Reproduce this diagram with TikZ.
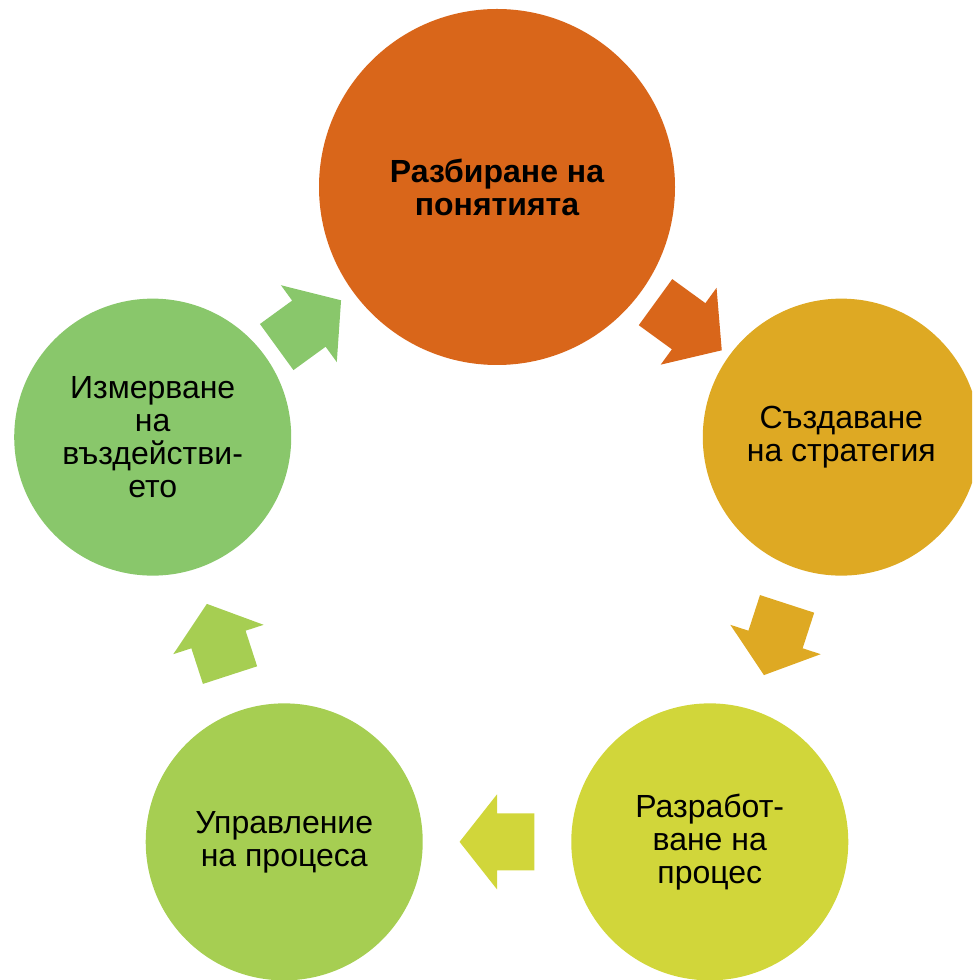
\documentclass[tikz,border=0pt]{standalone}
\usepackage{fontspec}
\setmainfont{Liberation Sans}
\usetikzlibrary{calc}

\definecolor{concept}{RGB}{217,102,26}
\definecolor{strategy}{RGB}{222,169,35}
\definecolor{develop}{RGB}{209,214,58}
\definecolor{manage}{RGB}{166,206,82}
\definecolor{measure}{RGB}{137,199,107}

\tikzset{
  stage/.style={circle,minimum size=277pt,inner sep=0pt,align=center,
    font=\fontsize{32}{33}\selectfont},
  cyclearrow/.pic={
    \path[pic actions] (-39,-28.5) -- (0,-28.5) -- (0,-47.5) -- (39,0)
      -- (0,47.5) -- (0,28.5) -- (-39,28.5) -- cycle;
  }
}

\begin{document}
\begin{tikzpicture}[x=1pt,y=1pt]
  \useasboundingbox (0,0) rectangle (972,980);
  \clip (0,0) rectangle (972,980);
  \coordinate (Centre) at (497,431);
  % the five stages, round a pentagon
  \node[stage,fill=concept,minimum size=356pt,
        font=\fontsize{32}{33}\selectfont\bfseries]
     (concept) at ($(Centre)+(90:362)$) {Разбиране на\\понятията};
  \node[stage,fill=strategy] (strategy) at ($(Centre)+(18:362)$) {Създаване\\на стратегия};
  \node[stage,fill=develop] (develop) at ($(Centre)+(-54:362)$) {Разработ-\\ване на\\процес};
  \node[stage,fill=manage] (manage) at ($(Centre)+(-126:362)$) {Управление\\на процеса};
  \node[stage,fill=measure] (measure) at ($(Centre)+(162:362)$) {Измерване\\на\\въздействи-\\ето};
  % block arrows in the gaps, coloured like the stage they leave
  \foreach \from/\to/\ang/\back/\pos/\len in {concept/strategy/-36/144/0.54/1.05,
      strategy/develop/-108/72/0.5/0.96, develop/manage/180/0/0.5/0.96,
      manage/measure/108/-72/0.5/0.96, measure/concept/36/-144/0.5/1.02}{
    \coordinate (\from-\to) at ($(\from.\ang)!\pos!(\to.\back)$);
    \pic[fill=\from,rotate=\ang,xscale=\len] at (\from-\to) {cyclearrow};
  }
\end{tikzpicture}
\end{document}
